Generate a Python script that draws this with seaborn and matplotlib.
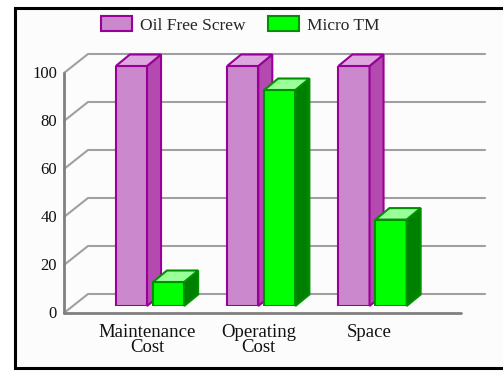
# IMPORT LIBRARIES

import pandas as pd
import matplotlib
matplotlib.use("Agg")
import matplotlib.pyplot as plt
import seaborn as sns
from matplotlib.patches import Patch, Polygon, Rectangle

# DATA

categories = ["Maintenance\nCost", "Operating\nCost", "Space"]
series_names = ["Oil Free Screw", "Micro TM"]
oil_free_screw = [100, 100, 100]
micro_tm = [10, 90, 36]
y_ticks = [0, 20, 40, 60, 80, 100]

df = pd.DataFrame({
    "category": categories * 2,
    "series": [series_names[0]] * 3 + [series_names[1]] * 3,
    "value": oil_free_screw + micro_tm
})

# COLORS

front_colors = ["#CC88CC", "#00FF00"]
side_colors = ["#B449B0", "#008000"]
top_colors = ["#DDA8DD", "#99FF99"]
edge_colors = ["#990099", "#009000"]

# FIGURE

sns.set_style("white")
plt.rcParams["font.family"] = ["Liberation Serif", "DejaVu Serif"]

W, H = 503, 377
fig = plt.figure(figsize=(W / 100, H / 100), dpi=100)
fig.patch.set_facecolor("white")

# outer frame
frame = Rectangle((15 / W, 1 - 368 / H), 1.0, (368 - 8) / H,
                  transform=fig.transFigure, facecolor="#FCFCFC",
                  edgecolor="black", linewidth=2.2, zorder=-10)
fig.patches.append(frame)

# axes: bar plane, x=0 at px 150, 111.25 px per category, 2.4 px per unit
ax_left, ax_right = 40, 500
ax = fig.add_axes([ax_left / W, (H - 306) / H, (ax_right - ax_left) / W, 240 / H])

PX = 1 / 111.25
PY = 1 / 2.4

sns.barplot(
    data=df,
    x="category",
    y="value",
    hue="series",
    palette=front_colors,
    saturation=1,
    width=0.667,
    gap=0.16,
    linewidth=1.5,
    ax=ax
)

ax.set_xlim((ax_left - 150) * PX, (ax_right - 150) * PX)
ax.set_ylim(0, 100)
ax.set_axis_off()
ax.patch.set_alpha(0)
if ax.get_legend() is not None:
    ax.get_legend().remove()

# WALLS AND GRID

fx, fy = -8.8 * PX, -7 * PY
bx, by = 15.2 * PX, 12 * PY
xl, xr = -0.694, 2.875

for t in y_ticks:
    ax.plot([xl + fx, xl + bx, xr + bx], [t + fy, t + by, t + by],
            color="#A0A0A0", linewidth=1.5, clip_on=False, zorder=0.5)
    ax.text(xl + fx - 7 * PX, t + fy - 1 * PY, str(t), ha="right", va="center",
            fontsize=12, color="#111111")

ax.plot([xl + fx, xl + fx], [fy, 100 + fy], color="#808080",
        linewidth=2, clip_on=False, zorder=0.6)
ax.plot([xl + fx, xr + fx], [fy, fy], color="#808080",
        linewidth=2, clip_on=False, zorder=0.6)

# 3D BAR FACES

dx, dy = 14 * PX, 11.5 * PY

for k, container in enumerate(ax.containers):
    for patch in container:
        patch.set_edgecolor(edge_colors[k])
        patch.set_zorder(2 + k)
        x0 = patch.get_x()
        w = patch.get_width()
        h = patch.get_height()
        side = Polygon([(x0 + w, 0), (x0 + w + dx, dy), (x0 + w + dx, h + dy), (x0 + w, h)],
                       closed=True, facecolor=side_colors[k], edgecolor=edge_colors[k],
                       linewidth=1.5, zorder=2 + k + 0.1, clip_on=False)
        top = Polygon([(x0, h), (x0 + dx, h + dy), (x0 + w + dx, h + dy), (x0 + w, h)],
                      closed=True, facecolor=top_colors[k], edgecolor=edge_colors[k],
                      linewidth=1.5, zorder=2 + k + 0.1, clip_on=False)
        ax.add_patch(side)
        ax.add_patch(top)

# CATEGORY LABELS

for i, name in enumerate(categories):
    ax.text(i - 3 * PX, fy - 11 * PY, name, ha="center", va="top", fontsize=13.5,
            linespacing=0.85, color="#111111")

# LEGEND

handles = [Patch(facecolor=front_colors[k], edgecolor=edge_colors[k], linewidth=1.5)
           for k in range(2)]
fig.legend(handles, series_names, loc="center", bbox_to_anchor=(240 / W, 1 - 25 / H),
           ncol=2, frameon=False, fontsize=12.5, handlelength=1.8, handleheight=0.9,
           handletextpad=0.45, columnspacing=1.3)

plt.savefig("out.png", dpi=100)
